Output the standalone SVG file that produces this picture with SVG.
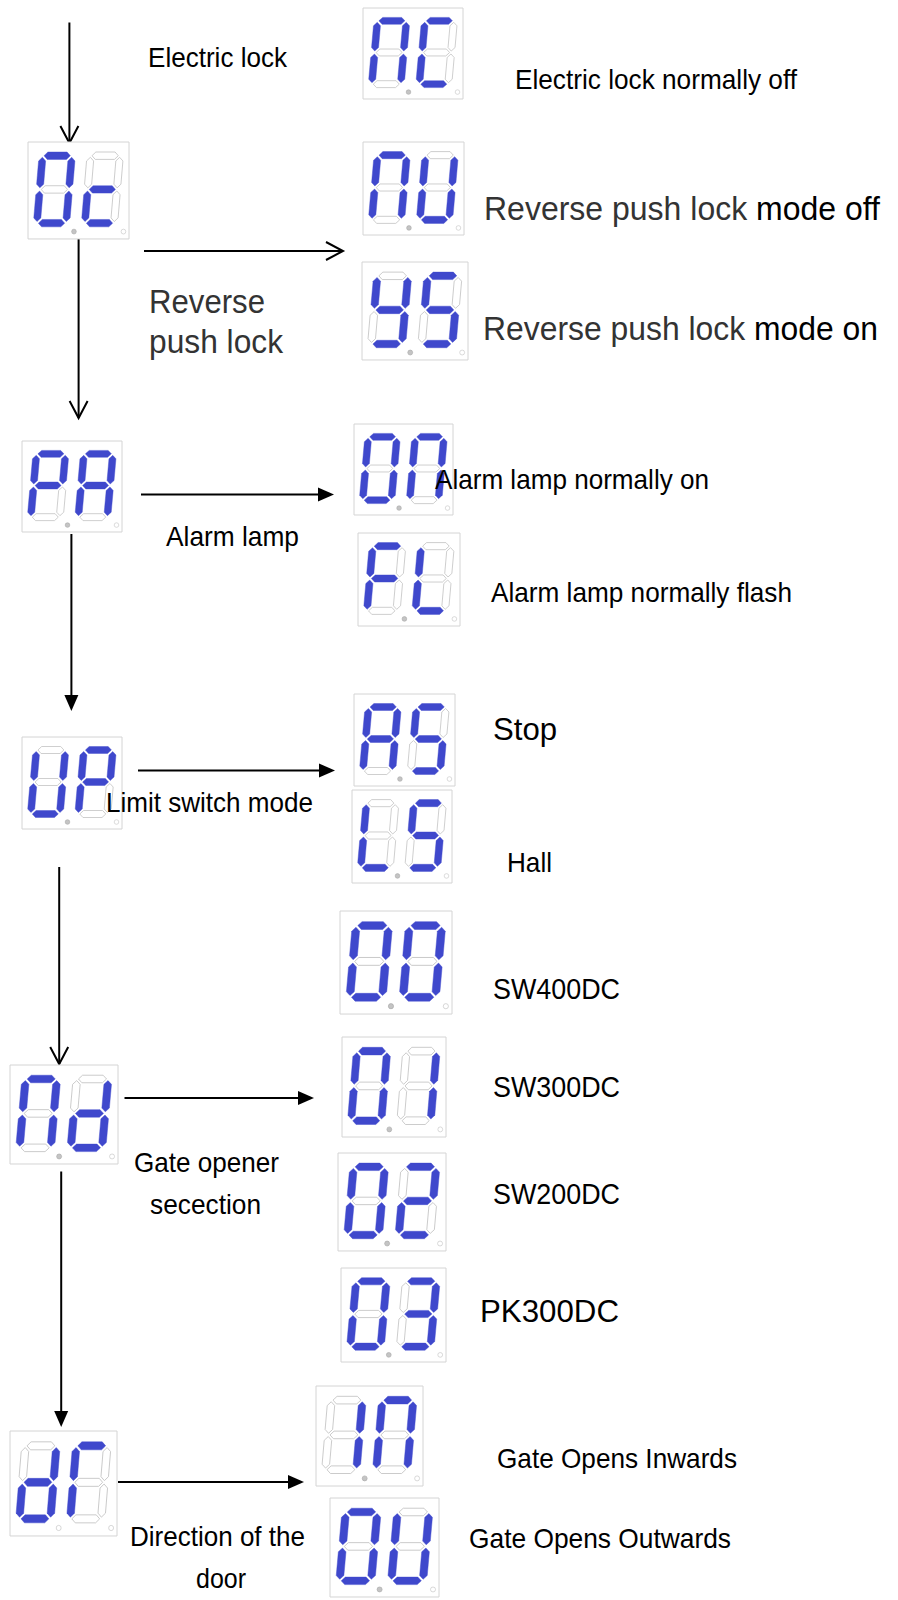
<svg xmlns="http://www.w3.org/2000/svg" width="898" height="1600" viewBox="0 0 898 1600">
<style>
.box{fill:#fff;stroke:#d4d4d4;stroke-width:1;vector-effect:non-scaling-stroke}
.on{fill:#3f48cc;stroke:#3f48cc;stroke-width:0.4}
.off{fill:#fff;stroke:#c4c4c4;stroke-width:0.8}
.p1{fill:#c4c4c4;stroke:#a8a8a8;stroke-width:0.6}
.p2{fill:#fff;stroke:#c4c4c4;stroke-width:0.6}
.t{font-family:"Liberation Sans",Arial,sans-serif;font-size:28px;fill:#000}
.big{font-size:32.5px}
.sw{font-size:29px}
.gr{fill:#333}
.ln{stroke:#000;stroke-width:2;fill:none}
.oa{marker-end:url(#open)}
.fa{marker-end:url(#fill)}
</style>
<defs>
<marker id="open" markerUnits="userSpaceOnUse" markerWidth="20" markerHeight="20" refX="0" refY="0" orient="auto" overflow="visible"><path d="M-17,-9 L0,0 L-17,9" fill="none" stroke="#000" stroke-width="2"/></marker>
<marker id="fill" markerUnits="userSpaceOnUse" markerWidth="20" markerHeight="20" refX="0" refY="0" orient="auto" overflow="visible"><path d="M0,-7 L16,0 L0,7 Z" fill="#000"/></marker>
<polygon id="sa" points="5,3.5 8.5,0 27.5,0 31,3.5 27.5,7 8.5,7"/>
<polygon id="sg" points="5,35.5 8.5,32 27.5,32 31,35.5 27.5,39 8.5,39"/>
<polygon id="sd" points="5,67.5 8.5,64 27.5,64 31,67.5 27.5,71 8.5,71"/>
<polygon id="sf" points="3.5,5 7,8.5 7,30.5 3.5,34 0,30.5 0,8.5"/>
<polygon id="se" points="3.5,37 7,40.5 7,62.5 3.5,66 0,62.5 0,40.5"/>
<polygon id="sb" points="32.5,5 36,8.5 36,30.5 32.5,34 29,30.5 29,8.5"/>
<polygon id="sc" points="32.5,37 36,40.5 36,62.5 32.5,66 29,62.5 29,40.5"/>
</defs>

<g id="connectors">
<line class="ln oa" x1="69.4" y1="22.5" x2="69.4" y2="143"/>
<line class="ln oa" x1="78.6" y1="239" x2="78.6" y2="418"/>
<line class="ln oa" x1="144" y1="251" x2="343" y2="251"/>
<line class="ln fa" x1="141" y1="494.5" x2="318" y2="494.5"/>
<line class="ln fa" x1="71.4" y1="534" x2="71.4" y2="695"/>
<line class="ln fa" x1="138" y1="770.5" x2="319" y2="770.5"/>
<line class="ln oa" x1="59.2" y1="867" x2="59.2" y2="1064"/>
<line class="ln fa" x1="124.5" y1="1098" x2="298" y2="1098"/>
<line class="ln fa" x1="61.2" y1="1171.5" x2="61.2" y2="1411"/>
<line class="ln fa" x1="118" y1="1482" x2="288" y2="1482"/>
</g>

<g id="disp-nc" transform="translate(363,8) scale(1,0.989)">
<rect class="box" width="100" height="92"/>
<g transform="translate(11.2,9.5) skewX(-5)"><use href="#sa" class="on"/><use href="#sb" class="on"/><use href="#sc" class="on"/><use href="#sd" class="off"/><use href="#se" class="on"/><use href="#sf" class="on"/><use href="#sg" class="off"/></g>
<g transform="translate(58.7,9.5) skewX(-5)"><use href="#sa" class="on"/><use href="#sb" class="off"/><use href="#sc" class="off"/><use href="#sd" class="on"/><use href="#se" class="on"/><use href="#sf" class="on"/><use href="#sg" class="off"/></g>
<circle class="p1" cx="45.5" cy="85" r="2.3"/><circle class="p2" cx="94.5" cy="85" r="2.3"/>
</g>

<g id="disp-oc" transform="translate(28,142) scale(1.01,1.054)">
<rect class="box" width="100" height="92"/>
<g transform="translate(11.2,9.5) skewX(-5)"><use href="#sa" class="on"/><use href="#sb" class="on"/><use href="#sc" class="on"/><use href="#sd" class="on"/><use href="#se" class="on"/><use href="#sf" class="on"/><use href="#sg" class="off"/></g>
<g transform="translate(58.7,9.5) skewX(-5)"><use href="#sa" class="off"/><use href="#sb" class="off"/><use href="#sc" class="off"/><use href="#sd" class="on"/><use href="#se" class="on"/><use href="#sf" class="off"/><use href="#sg" class="on"/></g>
<circle class="p1" cx="45.5" cy="85" r="2.3"/><circle class="p2" cx="94.5" cy="85" r="2.3"/>
</g>

<g id="disp-no" transform="translate(363,142) scale(1.01,1.011)">
<rect class="box" width="100" height="92"/>
<g transform="translate(11.2,9.5) skewX(-5)"><use href="#sa" class="on"/><use href="#sb" class="on"/><use href="#sc" class="on"/><use href="#sd" class="off"/><use href="#se" class="on"/><use href="#sf" class="on"/><use href="#sg" class="off"/></g>
<g transform="translate(58.7,9.5) skewX(-5)"><use href="#sa" class="off"/><use href="#sb" class="on"/><use href="#sc" class="on"/><use href="#sd" class="on"/><use href="#se" class="on"/><use href="#sf" class="on"/><use href="#sg" class="off"/></g>
<circle class="p1" cx="45.5" cy="85" r="2.3"/><circle class="p2" cx="94.5" cy="85" r="2.3"/>
</g>

<g id="disp-ys" transform="translate(362,262) scale(1.06,1.065)">
<rect class="box" width="100" height="92"/>
<g transform="translate(11.2,9.5) skewX(-5)"><use href="#sa" class="off"/><use href="#sb" class="on"/><use href="#sc" class="on"/><use href="#sd" class="on"/><use href="#se" class="off"/><use href="#sf" class="on"/><use href="#sg" class="on"/></g>
<g transform="translate(58.7,9.5) skewX(-5)"><use href="#sa" class="on"/><use href="#sb" class="off"/><use href="#sc" class="on"/><use href="#sd" class="on"/><use href="#se" class="off"/><use href="#sf" class="on"/><use href="#sg" class="on"/></g>
<circle class="p1" cx="45.5" cy="85" r="2.3"/><circle class="p2" cx="94.5" cy="85" r="2.3"/>
</g>

<g id="disp-pa" transform="translate(22,441) scale(1,0.989)">
<rect class="box" width="100" height="92"/>
<g transform="translate(11.2,9.5) skewX(-5)"><use href="#sa" class="on"/><use href="#sb" class="on"/><use href="#sc" class="off"/><use href="#sd" class="off"/><use href="#se" class="on"/><use href="#sf" class="on"/><use href="#sg" class="on"/></g>
<g transform="translate(58.7,9.5) skewX(-5)"><use href="#sa" class="on"/><use href="#sb" class="on"/><use href="#sc" class="on"/><use href="#sd" class="off"/><use href="#se" class="on"/><use href="#sf" class="on"/><use href="#sg" class="on"/></g>
<circle class="p1" cx="45.5" cy="85" r="2.3"/><circle class="p2" cx="94.5" cy="85" r="2.3"/>
</g>

<g id="disp-on" transform="translate(354,424) scale(0.99,0.989)">
<rect class="box" width="100" height="92"/>
<g transform="translate(11.2,9.5) skewX(-5)"><use href="#sa" class="on"/><use href="#sb" class="on"/><use href="#sc" class="on"/><use href="#sd" class="on"/><use href="#se" class="on"/><use href="#sf" class="on"/><use href="#sg" class="off"/></g>
<g transform="translate(58.7,9.5) skewX(-5)"><use href="#sa" class="on"/><use href="#sb" class="on"/><use href="#sc" class="on"/><use href="#sd" class="off"/><use href="#se" class="on"/><use href="#sf" class="on"/><use href="#sg" class="off"/></g>
<circle class="p1" cx="45.5" cy="85" r="2.3"/><circle class="p2" cx="94.5" cy="85" r="2.3"/>
</g>

<g id="disp-fl" transform="translate(358,533) scale(1.02,1.011)">
<rect class="box" width="100" height="92"/>
<g transform="translate(11.2,9.5) skewX(-5)"><use href="#sa" class="on"/><use href="#sb" class="off"/><use href="#sc" class="off"/><use href="#sd" class="off"/><use href="#se" class="on"/><use href="#sf" class="on"/><use href="#sg" class="on"/></g>
<g transform="translate(58.7,9.5) skewX(-5)"><use href="#sa" class="off"/><use href="#sb" class="off"/><use href="#sc" class="off"/><use href="#sd" class="on"/><use href="#se" class="on"/><use href="#sf" class="on"/><use href="#sg" class="off"/></g>
<circle class="p1" cx="45.5" cy="85" r="2.3"/><circle class="p2" cx="94.5" cy="85" r="2.3"/>
</g>

<g id="disp-up" transform="translate(22,737) scale(1,1)">
<rect class="box" width="100" height="92"/>
<g transform="translate(11.2,9.5) skewX(-5)"><use href="#sa" class="off"/><use href="#sb" class="on"/><use href="#sc" class="on"/><use href="#sd" class="on"/><use href="#se" class="on"/><use href="#sf" class="on"/><use href="#sg" class="off"/></g>
<g transform="translate(58.7,9.5) skewX(-5)"><use href="#sa" class="on"/><use href="#sb" class="on"/><use href="#sc" class="off"/><use href="#sd" class="off"/><use href="#se" class="on"/><use href="#sf" class="on"/><use href="#sg" class="on"/></g>
<circle class="p1" cx="45.5" cy="85" r="2.3"/><circle class="p2" cx="94.5" cy="85" r="2.3"/>
</g>

<g id="disp-as" transform="translate(354,694) scale(1.01,1)">
<rect class="box" width="100" height="92"/>
<g transform="translate(11.2,9.5) skewX(-5)"><use href="#sa" class="on"/><use href="#sb" class="on"/><use href="#sc" class="on"/><use href="#sd" class="off"/><use href="#se" class="on"/><use href="#sf" class="on"/><use href="#sg" class="on"/></g>
<g transform="translate(58.7,9.5) skewX(-5)"><use href="#sa" class="on"/><use href="#sb" class="off"/><use href="#sc" class="on"/><use href="#sd" class="on"/><use href="#se" class="off"/><use href="#sf" class="on"/><use href="#sg" class="on"/></g>
<circle class="p1" cx="45.5" cy="85" r="2.3"/><circle class="p2" cx="94.5" cy="85" r="2.3"/>
</g>

<g id="disp-ls" transform="translate(352,790) scale(1,1.011)">
<rect class="box" width="100" height="92"/>
<g transform="translate(11.2,9.5) skewX(-5)"><use href="#sa" class="off"/><use href="#sb" class="off"/><use href="#sc" class="off"/><use href="#sd" class="on"/><use href="#se" class="on"/><use href="#sf" class="on"/><use href="#sg" class="off"/></g>
<g transform="translate(58.7,9.5) skewX(-5)"><use href="#sa" class="on"/><use href="#sb" class="off"/><use href="#sc" class="on"/><use href="#sd" class="on"/><use href="#se" class="off"/><use href="#sf" class="on"/><use href="#sg" class="on"/></g>
<circle class="p1" cx="45.5" cy="85" r="2.3"/><circle class="p2" cx="94.5" cy="85" r="2.3"/>
</g>

<g id="disp-00" transform="translate(340,911) scale(1.12,1.12)">
<rect class="box" width="100" height="92"/>
<g transform="translate(11.2,9.5) skewX(-5)"><use href="#sa" class="on"/><use href="#sb" class="on"/><use href="#sc" class="on"/><use href="#sd" class="on"/><use href="#se" class="on"/><use href="#sf" class="on"/><use href="#sg" class="off"/></g>
<g transform="translate(58.7,9.5) skewX(-5)"><use href="#sa" class="on"/><use href="#sb" class="on"/><use href="#sc" class="on"/><use href="#sd" class="on"/><use href="#se" class="on"/><use href="#sf" class="on"/><use href="#sg" class="off"/></g>
<circle class="p1" cx="45.5" cy="85" r="2.3"/><circle class="p2" cx="94.5" cy="85" r="2.3"/>
</g>

<g id="disp-nd" transform="translate(10,1065) scale(1.08,1.076)">
<rect class="box" width="100" height="92"/>
<g transform="translate(11.2,9.5) skewX(-5)"><use href="#sa" class="on"/><use href="#sb" class="on"/><use href="#sc" class="on"/><use href="#sd" class="off"/><use href="#se" class="on"/><use href="#sf" class="on"/><use href="#sg" class="off"/></g>
<g transform="translate(58.7,9.5) skewX(-5)"><use href="#sa" class="off"/><use href="#sb" class="on"/><use href="#sc" class="on"/><use href="#sd" class="on"/><use href="#se" class="on"/><use href="#sf" class="off"/><use href="#sg" class="on"/></g>
<circle class="p1" cx="45.5" cy="85" r="2.3"/><circle class="p2" cx="94.5" cy="85" r="2.3"/>
</g>

<g id="disp-01" transform="translate(342,1037) scale(1.04,1.087)">
<rect class="box" width="100" height="92"/>
<g transform="translate(11.2,9.5) skewX(-5)"><use href="#sa" class="on"/><use href="#sb" class="on"/><use href="#sc" class="on"/><use href="#sd" class="on"/><use href="#se" class="on"/><use href="#sf" class="on"/><use href="#sg" class="off"/></g>
<g transform="translate(58.7,9.5) skewX(-5)"><use href="#sa" class="off"/><use href="#sb" class="on"/><use href="#sc" class="on"/><use href="#sd" class="off"/><use href="#se" class="off"/><use href="#sf" class="off"/><use href="#sg" class="off"/></g>
<circle class="p1" cx="45.5" cy="85" r="2.3"/><circle class="p2" cx="94.5" cy="85" r="2.3"/>
</g>

<g id="disp-02" transform="translate(338,1153) scale(1.08,1.065)">
<rect class="box" width="100" height="92"/>
<g transform="translate(11.2,9.5) skewX(-5)"><use href="#sa" class="on"/><use href="#sb" class="on"/><use href="#sc" class="on"/><use href="#sd" class="on"/><use href="#se" class="on"/><use href="#sf" class="on"/><use href="#sg" class="off"/></g>
<g transform="translate(58.7,9.5) skewX(-5)"><use href="#sa" class="on"/><use href="#sb" class="on"/><use href="#sc" class="off"/><use href="#sd" class="on"/><use href="#se" class="on"/><use href="#sf" class="off"/><use href="#sg" class="on"/></g>
<circle class="p1" cx="45.5" cy="85" r="2.3"/><circle class="p2" cx="94.5" cy="85" r="2.3"/>
</g>

<g id="disp-03" transform="translate(341,1268) scale(1.05,1.022)">
<rect class="box" width="100" height="92"/>
<g transform="translate(11.2,9.5) skewX(-5)"><use href="#sa" class="on"/><use href="#sb" class="on"/><use href="#sc" class="on"/><use href="#sd" class="on"/><use href="#se" class="on"/><use href="#sf" class="on"/><use href="#sg" class="off"/></g>
<g transform="translate(58.7,9.5) skewX(-5)"><use href="#sa" class="on"/><use href="#sb" class="on"/><use href="#sc" class="on"/><use href="#sd" class="on"/><use href="#se" class="off"/><use href="#sf" class="off"/><use href="#sg" class="on"/></g>
<circle class="p1" cx="45.5" cy="85" r="2.3"/><circle class="p2" cx="94.5" cy="85" r="2.3"/>
</g>

<g id="disp-io" transform="translate(316,1386) scale(1.07,1.087)">
<rect class="box" width="100" height="92"/>
<g transform="translate(11.2,9.5) skewX(-5)"><use href="#sa" class="off"/><use href="#sb" class="on"/><use href="#sc" class="on"/><use href="#sd" class="off"/><use href="#se" class="off"/><use href="#sf" class="off"/><use href="#sg" class="off"/></g>
<g transform="translate(58.7,9.5) skewX(-5)"><use href="#sa" class="on"/><use href="#sb" class="on"/><use href="#sc" class="on"/><use href="#sd" class="off"/><use href="#se" class="on"/><use href="#sf" class="on"/><use href="#sg" class="off"/></g>
<circle class="p1" cx="45.5" cy="85" r="2.3"/><circle class="p2" cx="94.5" cy="85" r="2.3"/>
</g>

<g id="disp-dr" transform="translate(10,1431) scale(1.07,1.141)">
<rect class="box" width="100" height="92"/>
<g transform="translate(11.2,9.5) skewX(-5)"><use href="#sa" class="off"/><use href="#sb" class="on"/><use href="#sc" class="on"/><use href="#sd" class="on"/><use href="#se" class="on"/><use href="#sf" class="off"/><use href="#sg" class="on"/></g>
<g transform="translate(58.7,9.5) skewX(-5)"><use href="#sa" class="on"/><use href="#sb" class="off"/><use href="#sc" class="off"/><use href="#sd" class="off"/><use href="#se" class="on"/><use href="#sf" class="on"/><use href="#sg" class="off"/></g>
<circle class="p2" cx="45.5" cy="85" r="2.3"/><circle class="p2" cx="94.5" cy="85" r="2.3"/>
</g>

<g id="disp-ou" transform="translate(330,1498) scale(1.09,1.076)">
<rect class="box" width="100" height="92"/>
<g transform="translate(11.2,9.5) skewX(-5)"><use href="#sa" class="on"/><use href="#sb" class="on"/><use href="#sc" class="on"/><use href="#sd" class="on"/><use href="#se" class="on"/><use href="#sf" class="on"/><use href="#sg" class="off"/></g>
<g transform="translate(58.7,9.5) skewX(-5)"><use href="#sa" class="off"/><use href="#sb" class="on"/><use href="#sc" class="on"/><use href="#sd" class="on"/><use href="#se" class="on"/><use href="#sf" class="on"/><use href="#sg" class="off"/></g>
<circle class="p1" cx="45.5" cy="85" r="2.3"/><circle class="p2" cx="94.5" cy="85" r="2.3"/>
</g>

<g id="labels">
<text class="t" x="148" y="66.5" textLength="139" lengthAdjust="spacingAndGlyphs">Electric lock</text>
<text class="t" x="515" y="89" textLength="282" lengthAdjust="spacingAndGlyphs">Electric lock normally off</text>
<text class="t big" x="484" y="220" textLength="396" lengthAdjust="spacingAndGlyphs"><tspan class="gr">Reverse push lock </tspan>mode off</text>
<text class="t big" x="483" y="340" textLength="395" lengthAdjust="spacingAndGlyphs"><tspan class="gr">Reverse push lock </tspan>mode on</text>
<text class="t big gr" x="149" y="313" textLength="116" lengthAdjust="spacingAndGlyphs">Reverse</text>
<text class="t big gr" x="149" y="353" textLength="134" lengthAdjust="spacingAndGlyphs">push lock</text>
<text class="t" x="435" y="489" textLength="274" lengthAdjust="spacingAndGlyphs">Alarm lamp normally on</text>
<text class="t" x="166" y="546" textLength="133" lengthAdjust="spacingAndGlyphs">Alarm lamp</text>
<text class="t" x="491" y="602" textLength="301" lengthAdjust="spacingAndGlyphs">Alarm lamp normally flash</text>
<text class="t" x="493" y="740" style="font-size:32px" textLength="64" lengthAdjust="spacingAndGlyphs">Stop</text>
<text class="t" x="106" y="812" textLength="207" lengthAdjust="spacingAndGlyphs">Limit switch mode</text>
<text class="t" x="507" y="872" textLength="45" lengthAdjust="spacingAndGlyphs">Hall</text>
<text class="t sw" x="493" y="999" textLength="127" lengthAdjust="spacingAndGlyphs">SW400DC</text>
<text class="t sw" x="493" y="1097" textLength="127" lengthAdjust="spacingAndGlyphs">SW300DC</text>
<text class="t" x="134" y="1172" textLength="145" lengthAdjust="spacingAndGlyphs">Gate opener</text>
<text class="t" x="150" y="1214" textLength="111" lengthAdjust="spacingAndGlyphs">secection</text>
<text class="t sw" x="493" y="1204" textLength="127" lengthAdjust="spacingAndGlyphs">SW200DC</text>
<text class="t" x="480" y="1322" style="font-size:32px" textLength="139" lengthAdjust="spacingAndGlyphs">PK300DC</text>
<text class="t" x="497" y="1468" textLength="240" lengthAdjust="spacingAndGlyphs">Gate Opens Inwards</text>
<text class="t" x="130" y="1546" textLength="175" lengthAdjust="spacingAndGlyphs">Direction of the</text>
<text class="t" x="196" y="1588" textLength="50" lengthAdjust="spacingAndGlyphs">door</text>
<text class="t" x="469" y="1548" textLength="262" lengthAdjust="spacingAndGlyphs">Gate Opens Outwards</text>
</g>
</svg>
